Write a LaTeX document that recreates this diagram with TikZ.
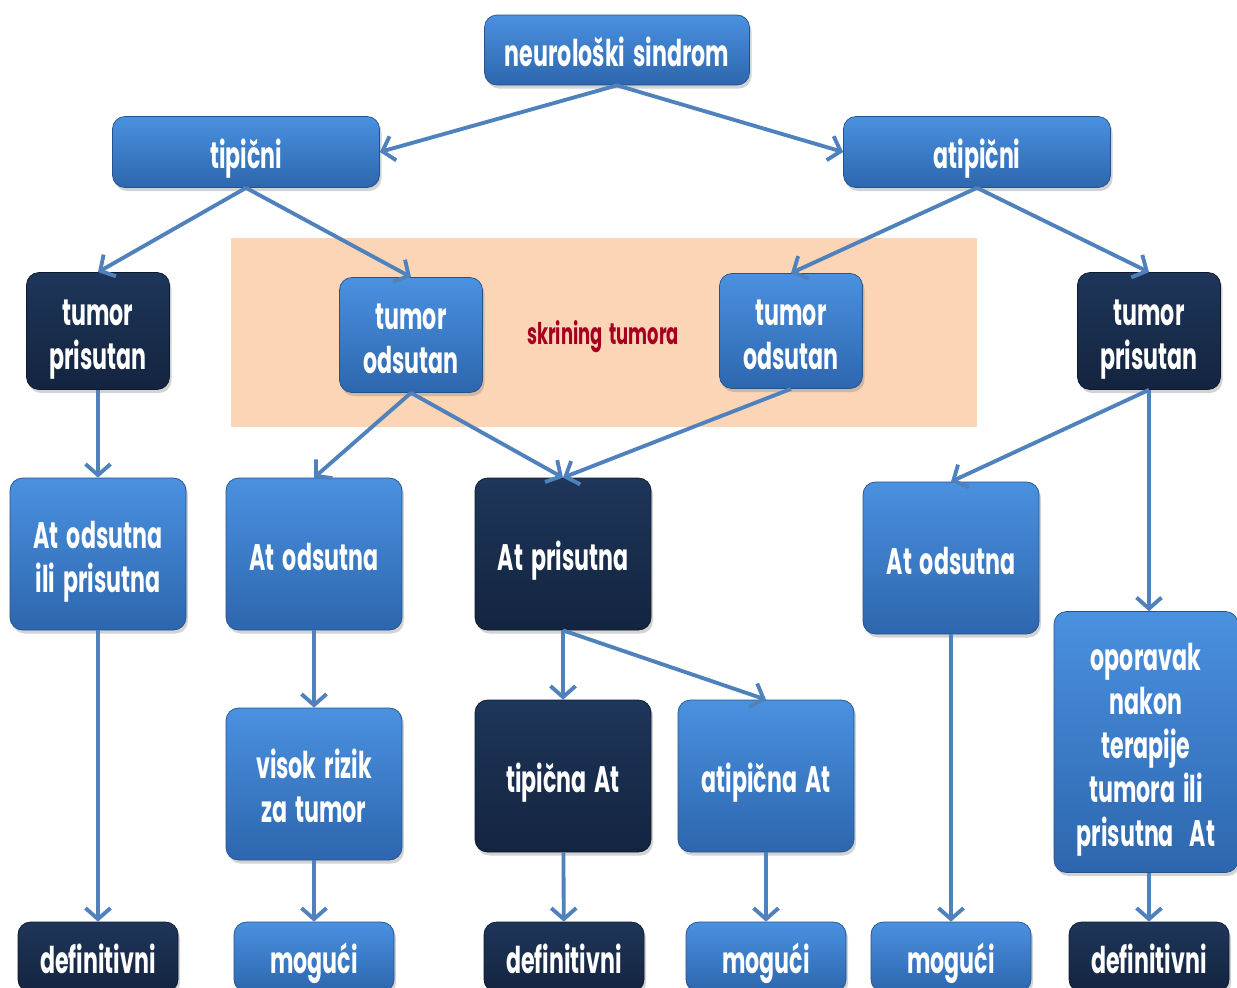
\documentclass[tikz,border=0pt]{standalone}
\usepackage{fontspec}
\setmainfont[FakeStretch=0.6, WordSpace=1.7]{Poppins}
\usepackage{tikz}
\usetikzlibrary{arrows.meta, positioning, shadows}
\usepackage{xcolor}
\definecolor{boxtop}{HTML}{4A91E0}
\definecolor{boxbot}{HTML}{2D66AE}
\definecolor{darktop}{HTML}{1E365A}
\definecolor{darkbot}{HTML}{13243F}
\definecolor{linkblue}{HTML}{4F81BD}
\definecolor{peach}{HTML}{FBD5B5}
\definecolor{screenred}{HTML}{A50021}
% box text, centred on the x-height like the slide
\newcommand{\celltext}[1]{\raisebox{-0.33cm}[0pt][0pt]{\begin{tabular}{@{}c@{}}#1\end{tabular}}}

\begin{document}
\begin{tikzpicture}[
    block/.style={rectangle, rounded corners=0.25cm, text=white,
                  top color=boxtop, bottom color=boxbot, draw=boxbot!80!black,
                  font=\fontsize{21}{25}\selectfont\bfseries,
                  drop shadow={opacity=0.35, shadow xshift=0.04cm, shadow yshift=-0.07cm}},
    darkblock/.style={block, top color=darktop, bottom color=darkbot, draw=darkbot!70!black},
    arrow/.style={-{Straight Barb[length=2.2mm, width=5mm]}, line width=2.2pt, draw=linkblue}
]
    \useasboundingbox (0,0) rectangle (24.74,-19.74);

    % screening band
    \fill[peach] (4.62,-4.76) rectangle (19.54,-8.54);
    \node[text=screenred, font=\fontsize{17}{20}\selectfont\bfseries] (skr) at (12.06,-6.74) {skrining tumora};

    % top levels
    \node[block, minimum width=5.3cm, minimum height=1.4cm] (neuro) at (12.34,-1.0) {\celltext{neurološki sindrom}};
    \node[block, minimum width=5.34cm, minimum height=1.42cm] (tip) at (4.92,-3.04) {\celltext{tipični}};
    \node[block, minimum width=5.34cm, minimum height=1.42cm] (atip) at (19.54,-3.04) {\celltext{atipični}};

    % tumor nodes
    \node[darkblock, minimum width=2.86cm, minimum height=2.34cm] (tpL) at (1.96,-6.62) {\celltext{tumor\\prisutan}};
    \node[block, minimum width=2.86cm, minimum height=2.3cm] (toL) at (8.22,-6.7) {\celltext{tumor\\odsutan}};
    \node[block, minimum width=2.86cm, minimum height=2.3cm] (toR) at (15.82,-6.62) {\celltext{tumor\\odsutan}};
    \node[darkblock, minimum width=2.86cm, minimum height=2.34cm] (tpR) at (22.98,-6.62) {\celltext{tumor\\prisutan}};

    % antibody nodes
    \node[block, minimum width=3.52cm, minimum height=3.04cm] (aoip) at (1.96,-11.08) {\celltext{At odsutna\\ili prisutna}};
    \node[block, minimum width=3.52cm, minimum height=3.04cm] (ao) at (6.28,-11.08) {\celltext{At odsutna}};
    \node[darkblock, minimum width=3.52cm, minimum height=3.04cm] (ap) at (11.26,-11.08) {\celltext{At prisutna}};
    \node[block, minimum width=3.52cm, minimum height=3.04cm] (aoR) at (19.02,-11.16) {\celltext{At odsutna}};

    \node[block, minimum width=3.52cm, minimum height=3.04cm] (visok) at (6.28,-15.68) {\celltext{visok rizik\\za tumor}};
    \node[darkblock, minimum width=3.52cm, minimum height=3.04cm] (tipAt) at (11.26,-15.52) {\celltext{tipična At}};
    \node[block, minimum width=3.52cm, minimum height=3.04cm] (atipAt) at (15.32,-15.52) {\celltext{atipična At}};
    \node[block, minimum width=3.68cm, minimum height=5.22cm] (opor) at (22.92,-14.84)
        {\celltext{oporavak\\nakon\\terapije\\tumora ili\\prisutna~~At}};

    % outcomes
    \node[darkblock, minimum width=3.2cm, minimum height=1.4cm] (def1) at (1.96,-19.14) {\celltext{definitivni}};
    \node[block, minimum width=3.2cm, minimum height=1.4cm] (mog1) at (6.28,-19.14) {\celltext{mogući}};
    \node[darkblock, minimum width=3.2cm, minimum height=1.4cm] (def2) at (11.28,-19.14) {\celltext{definitivni}};
    \node[block, minimum width=3.2cm, minimum height=1.4cm] (mog2) at (15.32,-19.14) {\celltext{mogući}};
    \node[block, minimum width=3.2cm, minimum height=1.4cm] (mog3) at (19.02,-19.14) {\celltext{mogući}};
    \node[darkblock, minimum width=3.2cm, minimum height=1.4cm] (def3) at (22.98,-19.14) {\celltext{definitivni}};

    \draw[arrow] (neuro.south) -- (tip.east);
    \draw[arrow] (neuro.south) -- (atip.west);
    \draw[arrow] (tip.south) -- (tpL.north);
    \draw[arrow] (tip.south) -- (toL.north);
    \draw[arrow] (atip.south) -- (toR.north);
    \draw[arrow] (atip.south) -- (tpR.north);
    \draw[arrow] (tpL) -- (aoip);
    \draw[arrow] (toL.south) -- (ao.north);
    \draw[arrow] (toL.south) -- (ap.north);
    \draw[arrow] (toR.south) -- (ap.north);
    \draw[arrow] (tpR.south) -- (aoR.north);
    \draw[arrow] (tpR.south) -- (tpR.south |- opor.north);
    \draw[arrow] (aoip) -- (def1);
    \draw[arrow] (ao) -- (visok);
    \draw[arrow] (visok) -- (mog1);
    \draw[arrow] (ap.south) -- (tipAt.north);
    \draw[arrow] (ap.south) -- (atipAt.north);
    \draw[arrow] (tipAt) -- (def2);
    \draw[arrow] (atipAt) -- (mog2);
    \draw[arrow] (aoR) -- (mog3);
    \draw[arrow] (opor.south -| def3) -- (def3);
\end{tikzpicture}
\end{document}
